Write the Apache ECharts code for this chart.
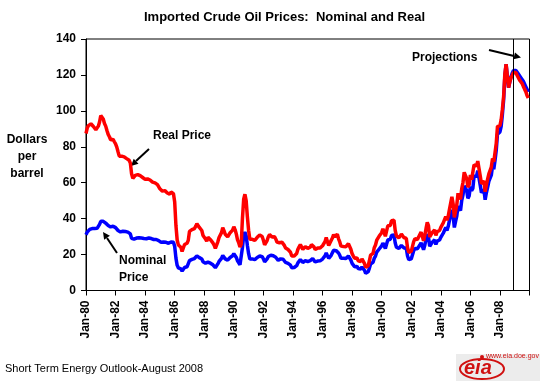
<!DOCTYPE html>
<html>
<head>
<meta charset="utf-8">
<script src="https://cdn.jsdelivr.net/npm/echarts@6/dist/echarts.min.js"></script>
<style>
html,body{margin:0;padding:0;background:#fff;}
#chart{width:545px;height:385px;}
</style>
</head>
<body>
<div id="chart"></div>
<script>
// Month index 0 = Jan-1980 ... 359 = Dec-2009 (monthly)
var startYear = 1980;
var tickLabels = ['Jan-80','Jan-82','Jan-84','Jan-86','Jan-88','Jan-90','Jan-92','Jan-94','Jan-96','Jan-98','Jan-00','Jan-02','Jan-04','Jan-06','Jan-08'];
var yTicks = [0,20,40,60,80,100,120,140];
var projectionStart = 347; // month index of the "Projections" divider

var nominalPrice = [
  31.0,32.5,33.5,34.0,34.5,34.5,34.6,34.5,34.3,34.6,35.6,36.8, // 1980
  38.5,39.0,38.5,37.8,37.5,36.8,36.2,35.8,35.4,35.6,35.8,35.4, // 1981
  35.0,34.4,33.4,32.5,32.6,32.8,33.0,32.9,32.8,32.6,32.5,32.2, // 1982
  31.5,29.0,28.0,28.6,29.0,29.2,29.3,29.4,29.3,29.2,29.0,28.9, // 1983
  28.8,28.8,29.0,29.2,29.0,28.9,28.6,28.4,28.5,28.4,28.2,27.8, // 1984
  27.2,26.8,26.7,27.0,27.0,26.8,26.5,26.3,26.4,27.0,27.4,26.8, // 1985
  24.5,18.0,14.0,12.6,12.8,12.0,10.8,11.2,12.8,12.6,13.2,14.0, // 1986
  16.6,17.1,17.3,17.6,17.8,18.4,19.3,19.1,18.3,18.2,17.5,16.0, // 1987
  15.5,15.2,14.6,15.8,16.0,15.2,14.8,14.3,13.6,12.7,12.9,14.8, // 1988
  16.2,16.4,17.9,19.5,18.6,17.6,17.3,16.9,17.6,18.4,18.3,19.3, // 1989
  20.5,19.7,18.4,16.5,15.6,14.3,15.3,24.0,30.5,32.5,30.5,25.0, // 1990
  20.5,17.5,17.4,17.6,17.8,17.2,17.9,18.4,18.6,19.2,19.4,18.8, // 1991
  17.6,16.0,16.4,17.6,18.9,19.8,19.6,19.0,19.3,19.2,18.5,17.4, // 1992
  16.8,17.3,17.6,17.6,17.4,16.5,15.6,15.4,15.1,15.4,14.1,12.7, // 1993
  12.8,12.8,12.6,13.8,15.4,16.4,17.2,16.5,15.6,15.9,16.6,15.9, // 1994
  16.1,16.6,16.6,17.6,17.8,16.9,15.9,16.0,16.4,15.9,16.5,17.3, // 1995
  17.5,17.8,19.3,20.9,19.3,17.9,18.9,19.6,21.0,22.4,21.5,22.2, // 1996
  22.7,20.9,19.6,17.9,18.6,17.9,17.6,17.8,18.0,19.2,18.9,16.9, // 1997
  15.1,14.1,13.2,13.4,13.4,12.2,12.3,11.9,13.1,12.6,11.3,9.6,  // 1998
  10.2,10.4,12.3,14.8,15.7,15.7,18.0,19.2,21.4,21.5,23.1,24.0, // 1999
  24.8,26.4,27.4,23.4,25.9,28.1,27.6,28.5,30.6,30.4,31.0,26.5, // 2000
  24.1,25.0,23.4,23.9,25.1,24.5,23.8,24.0,23.4,19.2,17.2,16.8, // 2001
  17.6,18.3,22.1,23.4,24.3,23.3,24.4,25.3,26.6,25.8,22.7,25.2, // 2002
  28.4,31.3,29.8,24.6,24.7,26.8,27.6,28.2,25.6,27.5,27.3,28.1, // 2003
  29.6,30.0,31.9,32.3,35.1,33.4,35.6,38.9,39.5,44.9,41.6,35.1, // 2004
  38.5,41.6,47.0,47.3,44.5,50.2,53.2,58.2,58.4,55.7,51.3,52.6, // 2005
  57.9,55.5,56.8,63.6,64.3,63.6,66.7,66.7,58.6,54.5,53.8,56.0, // 2006
  50.5,54.4,57.4,60.7,61.5,64.2,69.3,67.5,72.4,78.0,87.0,86.4, // 2007
  88.3,91.4,98.0,106.0,119.5,126.0,127.0,113.0,116.0,119.0,121.0,122.5, // 2008
  123.0,122.5,121.5,120.5,119.5,118.5,117.5,116.5,115.0,113.5,112.0,110.5  // 2009
];

var realPrice = [
  87.4,90.4,91.8,92.1,92.8,91.8,91.3,90.4,89.5,89.6,91.5,93.8, // 1980
  97.4,97.9,95.5,93.0,91.5,89.1,86.9,85.6,83.9,84.0,84.1,82.8, // 1981
  81.6,79.8,77.2,74.8,74.7,74.8,74.9,74.4,74.1,73.4,73.1,72.5, // 1982
  70.9,65.0,62.4,63.5,64.1,64.2,64.5,64.4,63.9,63.7,62.9,62.7, // 1983
  61.9,61.6,62.1,62.2,61.5,61.3,60.3,59.9,59.9,59.6,58.9,58.1, // 1984
  56.6,55.5,55.3,55.6,55.6,54.9,54.3,53.7,53.6,54.8,55.3,53.9, // 1985
  49.2,36.2,28.1,25.3,25.7,24.1,21.7,22.4,25.6,25.2,26.3,27.9, // 1986
  32.9,33.7,33.9,34.3,34.5,35.7,37.2,36.9,35.1,34.9,33.4,30.6, // 1987
  29.5,28.7,27.4,29.7,29.9,28.3,27.5,26.5,25.2,23.4,23.7,27.1, // 1988
  29.5,29.7,32.2,34.9,33.3,31.3,30.6,29.9,31.0,32.2,32.0,33.6, // 1989
  35.5,33.9,31.5,28.2,26.5,24.2,25.9,40.3,50.9,53.6,50.0,41.0, // 1990
  33.4,28.5,28.4,28.5,28.8,27.9,29.0,29.6,29.9,30.9,31.0,30.1, // 1991
  28.0,25.4,25.9,27.8,29.9,31.1,30.8,29.8,30.1,30.0,28.7,27.0, // 1992
  25.9,26.6,26.9,26.9,26.6,25.1,23.7,23.4,22.8,23.3,21.3,19.2, // 1993
  19.2,19.2,18.8,20.6,22.9,24.3,25.5,24.4,22.9,23.4,24.4,23.4, // 1994
  23.5,24.2,24.1,25.5,25.8,24.3,22.9,23.0,23.6,22.7,23.6,24.7, // 1995
  24.9,25.3,27.2,29.5,27.2,25.1,26.5,27.4,29.2,31.1,29.9,30.9, // 1996
  31.3,28.8,27.0,24.7,25.5,24.5,24.1,24.4,24.7,26.1,25.7,23.0, // 1997
  20.5,19.2,18.0,18.1,18.1,16.5,16.6,16.1,17.6,16.9,15.1,12.9, // 1998
  13.7,13.8,16.4,19.7,20.7,20.7,23.8,25.3,28.0,28.2,30.3,31.4, // 1999
  32.2,34.3,35.3,30.2,33.2,36.0,35.1,36.2,38.9,38.6,39.1,33.4, // 2000
  30.4,31.5,29.3,29.9,31.4,30.4,29.5,29.8,29.0,23.8,21.3,20.8, // 2001
  21.8,22.7,27.2,28.8,29.9,28.4,29.8,30.9,32.5,31.5,27.7,30.7, // 2002
  34.4,37.9,36.1,29.8,29.6,32.2,33.1,33.8,30.7,32.7,32.5,33.4, // 2003
  35.2,35.7,37.6,38.1,41.1,39.1,41.3,45.1,45.8,52.1,48.3,40.7, // 2004
  44.3,47.8,54.1,53.9,50.7,56.7,60.1,65.8,65.4,62.4,57.5,58.9, // 2005
  64.3,61.6,62.5,70.0,70.1,69.3,72.0,72.0,63.9,59.4,58.6,61.0, // 2006
  55.0,58.8,62.0,64.9,65.8,68.7,73.5,71.6,76.7,81.9,91.4,90.7, // 2007
  91.8,95.1,100.9,108.1,120.7,126.0,127.0,113.0,116.0,118.4,119.8,121.3, // 2008
  121.8,121.3,119.7,118.7,117.1,116.1,115.2,113.6,112.1,110.7,108.6,107.2  // 2009
];

var chart = echarts.init(document.getElementById('chart'), null, {renderer: 'canvas'});
var FONT = 'Arial, "Liberation Sans", sans-serif';

function toPairs(arr) { return arr.map(function (v, i) { return [i, v]; }); }

var option = {
  backgroundColor: '#ffffff',
  animation: false,
  title: {
    text: 'Imported Crude Oil Prices:  Nominal and Real',
    left: 144, top: 11, padding: 0,
    textStyle: { fontFamily: FONT, fontSize: 13, fontWeight: 'bold', color: '#000' }
  },
  grid: {
    left: 86, right: 15.5, top: 39, bottom: 94.5,
    show: true, borderColor: '#000', borderWidth: 1, backgroundColor: '#fff'
  },
  xAxis: {
    type: 'value', min: 0, max: 360, interval: 24,
    splitLine: { show: false },
    axisLine: { show: true, lineStyle: { color: '#000', width: 1 } },
    axisTick: { show: true, length: 5, lineStyle: { color: '#000' } },
    axisLabel: {
      rotate: 90, margin: 10, color: '#000',
      fontFamily: FONT, fontSize: 12, fontWeight: 'bold',
      showMaxLabel: true,
      formatter: function (v) { var k = Math.round(v / 24); return tickLabels[k] || ''; }
    }
  },
  yAxis: {
    type: 'value', min: yTicks[0], max: yTicks[yTicks.length - 1], interval: 20,
    splitLine: { show: false },
    axisLine: { show: true, lineStyle: { color: '#000', width: 1 } },
    axisTick: { show: true, length: 5, lineStyle: { color: '#000' } },
    axisLabel: { margin: 10, color: '#000', fontFamily: FONT, fontSize: 12, fontWeight: 'bold' }
  },
  series: [
    {
      name: 'Nominal Price', type: 'line', data: toPairs(nominalPrice),
      showSymbol: false, symbol: 'none',
      lineStyle: { color: '#0000ff', width: 3.5 },
      z: 2,
      markLine: {
        silent: true, symbol: ['none', 'none'],
        label: { show: false },
        lineStyle: { color: '#000', width: 1, type: 'solid' },
        data: [{ xAxis: projectionStart }]
      }
    },
    {
      name: 'Real Price', type: 'line', data: toPairs(realPrice),
      showSymbol: false, symbol: 'none',
      lineStyle: { color: '#ff0000', width: 3.5 },
      z: 3
    }
  ],
  graphic: [
    // y-axis title
    { type: 'text', x: 27, y: 131, style: { text: 'Dollars\nper\nbarrel', align: 'center', fill: '#000', font: 'bold 12px ' + FONT, lineHeight: 17 } },
    // Real Price annotation
    { type: 'text', x: 153, y: 130, style: { text: 'Real Price', fill: '#000', font: 'bold 12px ' + FONT } },
    { type: 'line', shape: { x1: 149, y1: 149, x2: 136, y2: 161 }, style: { stroke: '#000', lineWidth: 2 } },
    { type: 'polygon', shape: { points: [[131, 166], [138.5, 163.8], [133.7, 158.7]] }, style: { fill: '#000' } },
    // Nominal Price annotation
    { type: 'text', x: 119, y: 255, style: { text: 'Nominal', fill: '#000', font: 'bold 12px ' + FONT } },
    { type: 'text', x: 119, y: 272, style: { text: 'Price', fill: '#000', font: 'bold 12px ' + FONT } },
    { type: 'line', shape: { x1: 117, y1: 253, x2: 107, y2: 238 }, style: { stroke: '#000', lineWidth: 2 } },
    { type: 'polygon', shape: { points: [[103, 232], [109.9, 235.7], [104.1, 239.7]] }, style: { fill: '#000' } },
    // Projections annotation
    { type: 'text', x: 412, y: 52, style: { text: 'Projections', fill: '#000', font: 'bold 12px ' + FONT } },
    { type: 'line', shape: { x1: 489, y1: 50, x2: 514, y2: 56 }, style: { stroke: '#000', lineWidth: 2 } },
    { type: 'polygon', shape: { points: [[521, 57.5], [513.4, 59.3], [515, 52.5]] }, style: { fill: '#000' } },
    // footer
    { type: 'text', x: 5, y: 363, style: { text: 'Short Term Energy Outlook-August 2008', fill: '#000', font: '11px ' + FONT } },
    // EIA logo
    { type: 'rect', shape: { x: 456, y: 354, width: 84, height: 27 }, style: { fill: '#ececec' } },
    { type: 'ellipse', shape: { cx: 482, cy: 369, rx: 22, ry: 10 }, style: { fill: 'none', stroke: '#d01010', lineWidth: 2 } },
    { type: 'text', x: 464, y: 358, style: { text: 'eia', fill: '#d01010', font: 'italic bold 20px ' + FONT } },
    { type: 'circle', shape: { cx: 482, cy: 357, r: 2 }, style: { fill: '#d01010' } },
    { type: 'text', x: 486, y: 353, style: { text: 'www.eia.doe.gov', fill: '#d01010', font: '7px ' + FONT } }
  ]
};
chart.setOption(option);
</script>
</body>
</html>
